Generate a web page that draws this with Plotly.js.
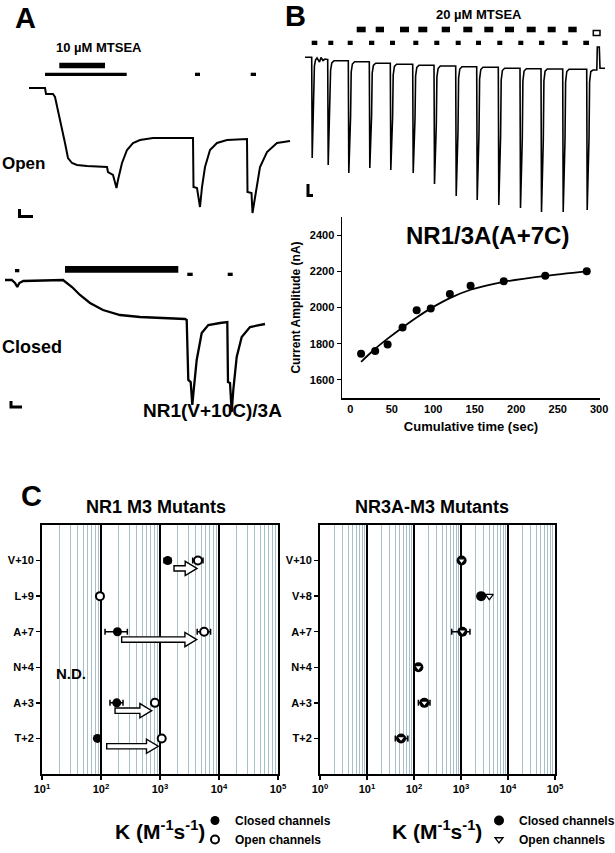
<!DOCTYPE html>
<html><head><meta charset="utf-8">
<script src="https://cdn.plot.ly/plotly-3.0.1.min.js"></script>
<style>html,body{margin:0;padding:0;background:#fff}#chart{width:615px;height:853px}</style>
</head><body><div id="chart"></div>
<script>
// ---------- Panel A: recordings (time, current; arbitrary units) ----------
const tOpen = [29,45,46,53,55,58,62,65,68,72,77,87,107,108,113,116.5,118,122,127,133,140,153,193,193.5,197,200,202,205,210,217,227,247,247.5,251.5,252.5,255,260,267,277,290];
const iOpen = [-88,-88,-94,-94,-97,-110,-127,-143,-158,-163,-165,-166,-167,-172,-175,-188,-180,-163,-150,-143,-140,-138,-138,-187,-188,-207,-187,-167,-150,-143,-140,-139,-192,-193,-213,-197,-167,-152,-143,-141];
const tClosed = [5,11.7,15,17.3,19.3,23.3,63,72,80,90,103,120,140,160,185,186.7,188.3,190.7,192.3,194,196.7,201.7,208.3,220,227.3,228,230,231.7,233.3,236.7,241.7,250,265];
const iClosed = [-280,-280,-283,-287,-283,-281,-280,-287,-295,-303,-310,-315,-317,-318,-319,-320,-380,-382,-405,-387,-360,-333,-325,-323,-322,-382,-383,-412,-390,-357,-337,-327,-324];
const openMtseaOn = [59.3], openMtseaOff = [105];
const openGluOn = [45,195,250.7], openGluOff = [126.7,200,256];
const closedMtseaOn = [65], closedMtseaOff = [178.3];
const closedGluOn = [15,187.3,227.7], closedGluOff = [19.3,192.7,232.7];

// ---------- Panel B: recording ----------
const tB = [305,311.7,312.2,313.8,314.4,315.5,317,319.5,321,323,325,327.5,
  327.7,328.2,330,330.6,331.8,334,
  348.3,348.8,350.6,351.2,352.4,354.6,
  369.3,369.8,371.6,372.2,373.4,375.6,
  390.3,390.8,392.6,393.2,394.4,396.6,
  412.7,413.2,415,415.6,416.8,419,
  434,434.5,436.3,436.9,438.1,440.3,
  455.7,456.2,458,458.6,459.8,462,
  476.7,477.2,479,479.6,480.8,483,
  498.3,498.8,500.6,501.2,502.4,504.6,
  520,520.5,522.3,522.9,524.1,526.3,
  541,541.5,543.3,543.9,545.1,547.3,
  562.7,563.2,565,565.6,566.8,569,
  586.7,587.2,589,589.6,590.8,593,596.8,597.3,599.3,600,605];
const iB = [-57.3,-57.3,-158,-108,-66,-60,-58,-62,-57.5,-60.5,-59,-59.5,
  -59.5,-165,-110,-70,-63,-60.7,
  -60.7,-173,-116,-72,-64,-61.7,
  -61.7,-168,-115,-73,-65.5,-63.3,
  -63.3,-170,-117,-75,-66.5,-64.3,
  -64.3,-173,-119,-76,-67.5,-65.3,
  -65.3,-184,-125,-77,-68.5,-66,
  -66,-196,-131,-78,-69,-66.7,
  -66.7,-200,-133,-79,-69.5,-67.3,
  -67.3,-205,-136,-80,-70.5,-68.3,
  -68.3,-208,-138,-81,-71,-68.7,
  -68.7,-212,-140,-81,-71.2,-69,
  -69,-212,-140,-82,-71.5,-69.3,
  -69.3,-210,-139,-82,-71.5,-70,-70,-47,-47,-68.3,-68.3];
const bMtseaOn = [356.7,375.7,400,418.3,441.7,463.3,484.3,505,526.7,547.7,568.3];
const bMtseaOff = [365.7,384,409,427.3,450,472.3,493.3,514,535.7,555.7,576.7];
const bGluOn = [311.7,328.3,347.7,369,390,413.3,434.3,455.7,476,497.3,518.3,539,562.3,583.3];
const bGluOff = [317.3,333.3,352.7,374.3,395,418.3,439.3,460.7,481,502.3,523.3,544.3,567.7,589];
const bWashOn = [593.3], bWashOff = [600];

// ---------- Panel B: amplitude vs cumulative time ----------
const timeSec = [13,30,45,63,80,97,120,145,185,235,285];
const ampNA = [1745,1760,1795,1890,1985,1995,2075,2120,2145,2175,2200];
const fitT = [13,30,45,63,80,97,120,145,185,235,285];
const fitA = [1700,1772,1828,1890,1945,1995,2052,2098,2142,2175,2200];
const xTicksB = [0,50,100,150,200,250,300];
const yTicksB = [1600,1800,2000,2200,2400];

// ---------- Panel C ----------
const nr1Labels = ['T+2','A+3','N+4','A+7','L+9','V+10'];
const nr1Closed = [87,185,null,190,null,1350];
const nr1ClosedErrMinus = [0,43,0,73,0,180];
const nr1ClosedErrPlus = [0,51,0,90,0,180];
const nr1Open = [1070,820,null,5600,96,4400];
const nr1OpenErrMinus = [0,0,0,1330,0,820];
const nr1OpenErrPlus = [0,0,0,1600,0,960];
const nr1ArrowFrom = [125,173,null,224,null,1727];
const nr1ArrowTo = [935,723,null,4188,null,4236];

const nr3Labels = ['T+2','A+3','N+4','A+7','V+8','V+10'];
const nr3Closed = [53,166,124,1070,2680,1030];
const nr3ClosedErrMinus = [13,42,0,435,0,0];
const nr3ClosedErrPlus = [21,53,0,480,0,0];
const nr3Open = [53,166,124,1070,4000,1030];

const logTickVals = [1,10,100,1000,10000,100000];
const logTickText = ['10<sup>0</sup>','10<sup>1</sup>','10<sup>2</sup>','10<sup>3</sup>','10<sup>4</sup>','10<sup>5</sup>'];

// ---------- layout helpers ----------
const W = 615, H = 853;
const dx = (a,b) => [a/W, b/W];
const dy = (top,bottom) => [1-bottom/H, 1-top/H];
const ARIAL = 'Liberation Sans, Arial, Helvetica, sans-serif';
const rows = nr1Labels.map((_,i)=>i);

function ann(text, x, y, size, opts) {
  return Object.assign({text:text, xref:'paper', yref:'paper', x:x/W, y:1-y/H,
    showarrow:false, xanchor:'center', yanchor:'middle',
    font:{family:ARIAL, size:size, color:'black', weight:'bold'}}, opts||{});
}
function bars(on, off, xref, yref, top, bot, fill) {
  return on.map((s,i)=>({type:'rect', xref:xref, yref:yref, x0:s, x1:off[i], y0:-bot, y1:-top,
    fillcolor: fill||'black', line:{width: fill ? 1.5 : 0, color:'black'}}));
}

const traces = [];
traces.push({x:tOpen, y:iOpen, xaxis:'x', yaxis:'y', mode:'lines', line:{color:'black', width:2}, showlegend:false, hoverinfo:'skip'});
traces.push({x:tClosed, y:iClosed, xaxis:'x', yaxis:'y', mode:'lines', line:{color:'black', width:2.3}, showlegend:false, hoverinfo:'skip'});
traces.push({x:tB, y:iB, xaxis:'x2', yaxis:'y2', mode:'lines', line:{color:'black', width:1.6}, showlegend:false, hoverinfo:'skip'});
traces.push({x:fitT, y:fitA, xaxis:'x3', yaxis:'y3', mode:'lines', line:{color:'black', width:1.8, shape:'spline', smoothing:0.8}, showlegend:false});
traces.push({x:timeSec, y:ampNA, xaxis:'x3', yaxis:'y3', mode:'markers', marker:{color:'black', size:8}, showlegend:false});

const eb = (minus, plus) => ({type:'data', symmetric:false, array:plus, arrayminus:minus, color:'black', thickness:1.5, width:3});
traces.push({x:nr1Closed, y:rows, xaxis:'x4', yaxis:'y4', mode:'markers', name:'<b>Closed channels</b>',
  marker:{symbol:'circle', color:'black', size:9}, error_x:eb(nr1ClosedErrMinus, nr1ClosedErrPlus), legend:'legend'});
traces.push({x:nr1Open, y:rows, xaxis:'x4', yaxis:'y4', mode:'markers', name:'<b>Open channels</b>',
  marker:{symbol:'circle', color:'white', size:8, line:{color:'black', width:2}}, error_x:eb(nr1OpenErrMinus, nr1OpenErrPlus), legend:'legend'});
traces.push({x:nr3Closed, y:rows, xaxis:'x5', yaxis:'y5', mode:'markers', name:'<b>Closed channels</b>',
  marker:{symbol:'circle', color:'black', size:10}, error_x:eb(nr3ClosedErrMinus, nr3ClosedErrPlus), legend:'legend2'});
traces.push({x:nr3Open, y:rows, xaxis:'x5', yaxis:'y5', mode:'markers', name:'<b>Open channels</b>',
  marker:{symbol:'triangle-down', color:'white', size:7, line:{color:'black', width:1.3}}, legend:'legend2'});

let shapes = [];
shapes = shapes.concat(bars(openMtseaOn, openMtseaOff, 'x', 'y', 62.7, 68.3));
shapes = shapes.concat(bars(openGluOn, openGluOff, 'x', 'y', 72.7, 76));
shapes = shapes.concat(bars(closedMtseaOn, closedMtseaOff, 'x', 'y', 266, 272.7));
shapes = shapes.concat(bars(closedGluOn.slice(0,1), closedGluOff.slice(0,1), 'x', 'y', 269, 272.3));
shapes = shapes.concat(bars(closedGluOn.slice(1), closedGluOff.slice(1), 'x', 'y', 272.7, 276));
shapes = shapes.concat(bars(bMtseaOn, bMtseaOff, 'x2', 'y2', 26.7, 32.3));
shapes = shapes.concat(bars(bGluOn, bGluOff, 'x2', 'y2', 40.7, 45));
shapes = shapes.concat(bars(bWashOn, bWashOff, 'x2', 'y2', 30.5, 35.5, 'white'));
shapes.push({type:'path', xref:'x', yref:'y', path:'M 19.5,-209 L 19.5,-216.5 L 33,-216.5', line:{color:'black', width:3}});
shapes.push({type:'path', xref:'x', yref:'y', path:'M 11,-401 L 11,-407 L 22,-407', line:{color:'black', width:3}});
shapes.push({type:'path', xref:'x2', yref:'y2', path:'M 308,-184 L 308,-195.5 L 313,-195.5', line:{color:'black', width:3}});
const headDec = 0.2, bh = 0.075, hh = 0.2, yOff = -0.22;
nr1ArrowFrom.forEach((f,i)=>{
  const t = nr1ArrowTo[i];
  if (f == null || t == null) return;
  const xh = t / Math.pow(10, headDec), y = i + yOff;
  shapes.push({type:'path', xref:'x4', yref:'y4', layer:'above',
    path:`M ${f},${y-bh} L ${xh},${y-bh} L ${xh},${y-hh} L ${t},${y} L ${xh},${y+hh} L ${xh},${y+bh} L ${f},${y+bh} Z`,
    fillcolor:'white', line:{color:'black', width:1.4}});
});

const annotations = [
  ann('A', 13, 18, 29, {xanchor:'left'}),
  ann('B', 283, 16, 29, {xanchor:'left'}),
  ann('C', 19, 496, 29, {xanchor:'left'}),
  ann('10 µM MTSEA', 99, 47, 13),
  ann('20 µM MTSEA', 479, 15, 13),
  ann('Open', 0, 163, 17, {xanchor:'left'}),
  ann('Closed', 0, 347, 18, {xanchor:'left'}),
  ann('NR1(V+10C)/3A', 212, 410, 19),
  ann('NR1/3A(A+7C)', 487, 235, 24),
  ann('NR1 M3 Mutants', 156, 507, 18),
  ann('NR3A-M3 Mutants', 432, 507, 18),
  ann('N.D.', 71, 673, 15),
  ann('K (M<sup>-1</sup>s<sup>-1</sup>)', 160, 830, 21),
  ann('K (M<sup>-1</sup>s<sup>-1</sup>)', 437, 830, 21)
];

const hidden = {visible:false, fixedrange:true};
const logX = (dom, rng, anchor) => ({domain:dom, type:'log', range:rng, anchor:anchor,
  tickmode:'array', tickvals:logTickVals, ticktext:logTickText, ticks:'outside', ticklen:4, tickwidth:1.5, tickcolor:'black',
  tickfont:{family:ARIAL, size:11, color:'black', weight:'bold'},
  showgrid:true, gridcolor:'black', gridwidth:2,
  minor:{dtick:'D1', showgrid:true, gridcolor:'#a7c0c8', gridwidth:1, ticks:''},
  showline:true, mirror:true, linecolor:'black', linewidth:2, zeroline:false, fixedrange:true});
const catY = (dom, labels, anchor) => ({domain:dom, range:[-1,6], anchor:anchor,
  tickmode:'array', tickvals:rows, ticktext:labels, ticks:'outside', ticklen:4, tickwidth:1.5, tickcolor:'black',
  tickfont:{family:ARIAL, size:11, color:'black', weight:'bold'},
  showgrid:false, zeroline:false, showline:true, mirror:true, linecolor:'black', linewidth:2, fixedrange:true});

const legendBase = {orientation:'v', xanchor:'left', yanchor:'top', bgcolor:'rgba(0,0,0,0)', borderwidth:0,
  font:{family:ARIAL, size:12, color:'black', weight:'bold'}, itemwidth:30, tracegroupgap:0, traceorder:'normal'};

const layout = {
  width:W, height:H, margin:{l:0,r:0,t:0,b:0, autoexpand:false},
  paper_bgcolor:'white', plot_bgcolor:'rgba(0,0,0,0)',
  showlegend:true,
  legend:Object.assign({}, legendBase, {x:195/W, y:1-806/H}),
  legend2:Object.assign({}, legendBase, {x:479/W, y:1-806/H}),
  xaxis:Object.assign({domain:dx(0,300), range:[0,300], anchor:'y'}, hidden),
  yaxis:Object.assign({domain:dy(0,440), range:[-440,0], anchor:'x'}, hidden),
  xaxis2:Object.assign({domain:dx(285,615), range:[285,615], anchor:'y2'}, hidden),
  yaxis2:Object.assign({domain:dy(0,215), range:[-215,0], anchor:'x2'}, hidden),
  xaxis3:{domain:dx(342,600), range:[-10,301], anchor:'y3', tickmode:'array', tickvals:xTicksB, ticks:'',
    tickfont:{family:ARIAL, size:11, color:'black', weight:'bold'}, showgrid:false, zeroline:false,
    showline:true, linecolor:'black', linewidth:1.5, fixedrange:true,
    title:{text:'Cumulative time (sec)', font:{family:ARIAL, size:13, color:'black', weight:'bold'}, standoff:8}},
  yaxis3:{domain:dy(217,398), range:[1500,2500], anchor:'x3', tickmode:'array', tickvals:yTicksB, ticks:'outside', ticklen:4, tickcolor:'black',
    tickfont:{family:ARIAL, size:11, color:'black', weight:'bold'}, showgrid:false, zeroline:false,
    showline:true, linecolor:'black', linewidth:1.5, fixedrange:true,
    title:{text:'Current Amplitude (nA)', font:{family:ARIAL, size:12, color:'black', weight:'bold'}, standoff:6}},
  xaxis4:logX(dx(42,278), [1,5], 'y4'),
  yaxis4:catY(dy(525,774), nr1Labels, 'x4'),
  xaxis5:logX(dx(320,555), [0,5], 'y5'),
  yaxis5:catY(dy(525,774), nr3Labels, 'x5'),
  shapes:shapes,
  annotations:annotations
};

Plotly.newPlot('chart', traces, layout, {staticPlot:true, displayModeBar:false});
</script></body></html>
